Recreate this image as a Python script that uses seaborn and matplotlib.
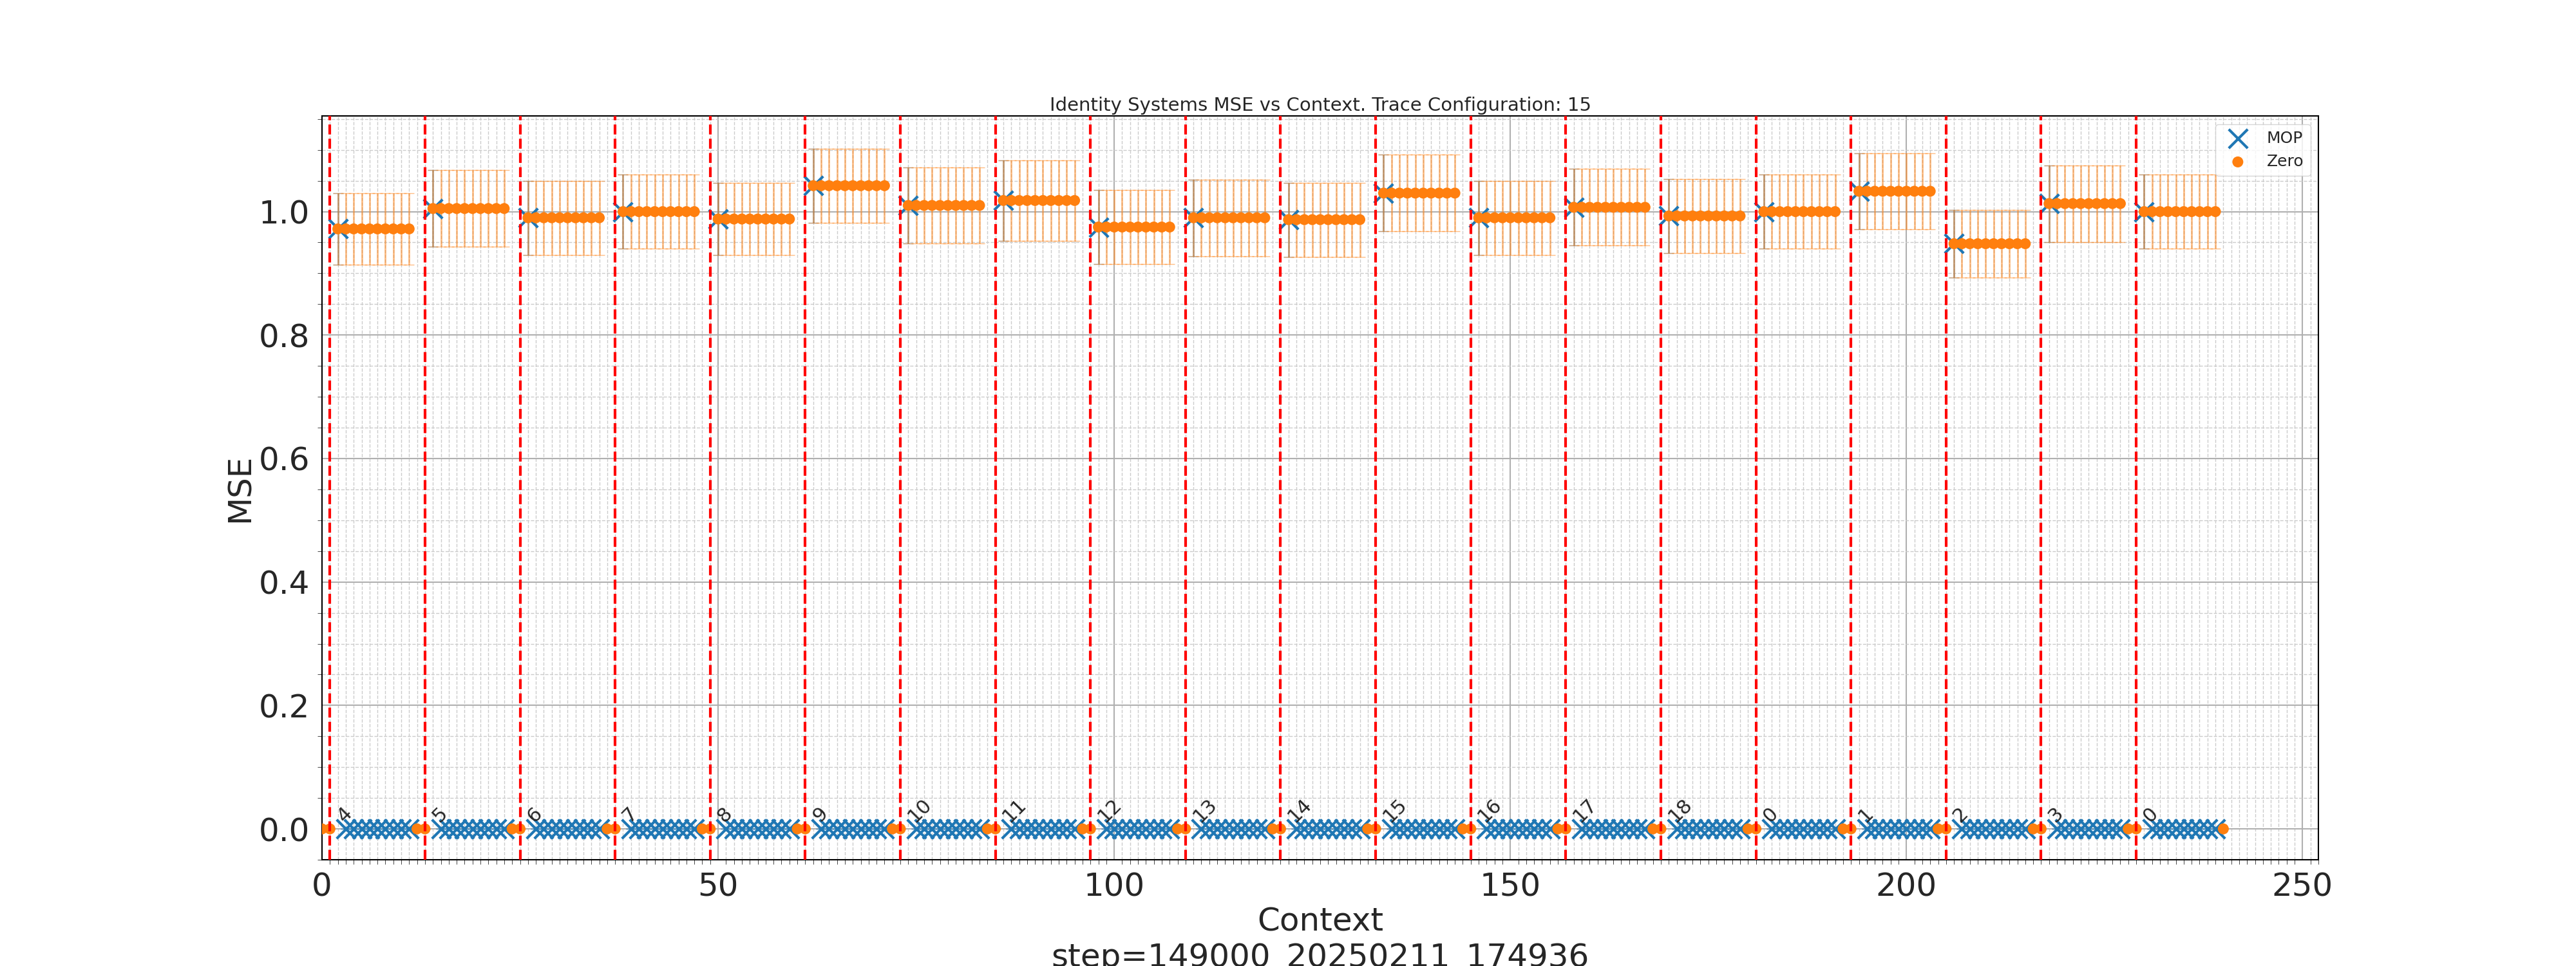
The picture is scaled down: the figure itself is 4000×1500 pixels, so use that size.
import numpy as np
import pandas as pd
import matplotlib
matplotlib.use("Agg")
import matplotlib.pyplot as plt
import seaborn as sns
from matplotlib.ticker import MultipleLocator

seg_labels = ["4","5","6","7","8","9","10","11","12","13","14","15","16","17","18","0","1","2","3","0"]
seg_means = [0.972,1.005,0.990,1.000,0.988,1.042,1.010,1.018,0.975,0.990,0.987,1.030,0.990,1.007,0.993,1.000,1.033,0.948,1.013,1.000]
seg_err = [0.058,0.062,0.060,0.060,0.058,0.060,0.062,0.065,0.060,0.062,0.060,0.062,0.060,0.062,0.060,0.060,0.062,0.055,0.062,0.060]
seg_len = 12

mop_x, mop_y, mop_e = [], [], []
zero_x, zero_y, zero_e = [0], [0.0], [0.0]
for k, (m, e) in enumerate(zip(seg_means, seg_err)):
    s = 1 + seg_len * k
    mop_x.append(s + 1); mop_y.append(m); mop_e.append(e)
    for j in range(2, 11):
        mop_x.append(s + j); mop_y.append(0.0); mop_e.append(0.0)
    zero_x.append(s); zero_y.append(0.0); zero_e.append(0.0)
    for j in range(1, 11):
        zero_x.append(s + j); zero_y.append(m); zero_e.append(e)
    zero_x.append(s + 11); zero_y.append(0.0); zero_e.append(0.0)

sns.set_style("white")
fig, ax = plt.subplots(figsize=(40, 15), dpi=100)

mop = pd.DataFrame({"x": mop_x, "y": mop_y})
zero = pd.DataFrame({"x": zero_x, "y": zero_y})
c0, c1 = "#1f77b4", "#ff7f0e"
ax.errorbar(mop_x, mop_y, yerr=mop_e, fmt="none", ecolor=c0, alpha=0.5, capsize=6, lw=2)
sns.scatterplot(data=mop, x="x", y="y", marker="x", s=450, color=c0, linewidth=3, ax=ax, label="MOP", zorder=3)
ax.errorbar(zero_x, zero_y, yerr=zero_e, fmt="none", ecolor=c1, alpha=0.5, capsize=6, lw=2)
sns.scatterplot(data=zero, x="x", y="y", marker="o", s=150, color=c1, edgecolor="none", ax=ax, label="Zero", zorder=4)

for k, lab in enumerate(seg_labels):
    s = 1 + seg_len * k
    ax.axvline(s, color="red", ls="--", lw=3, zorder=5)
    ax.text(s + 0.5, 0.005, lab, rotation=45, fontsize=22, ha="left", va="bottom")

ax.set_xlim(0, 252)
ax.set_ylim(-0.05, 1.155)
ax.xaxis.set_major_locator(MultipleLocator(50))
ax.xaxis.set_minor_locator(MultipleLocator(1))
ax.yaxis.set_major_locator(MultipleLocator(0.2))
ax.yaxis.set_minor_locator(MultipleLocator(0.05))
ax.grid(which="major", color="#b0b0b0", lw=1.5)
ax.grid(which="minor", color="#cccccc", ls="--", lw=1)
ax.tick_params(which="major", labelsize=36, length=10, width=1.5)
ax.tick_params(which="minor", length=5, bottom=True, left=True)
for sp in ax.spines.values():
    sp.set_color("black"); sp.set_linewidth(1.5)
ax.set_xlabel("Context\nstep=149000_20250211_174936", fontsize=36)
ax.set_ylabel("MSE", fontsize=36)
ax.set_title("Identity Systems MSE vs Context. Trace Configuration: 15", fontsize=21)
ax.legend(loc="upper right", fontsize=18, markerscale=1.0)
fig.savefig("out.png", dpi=100)
